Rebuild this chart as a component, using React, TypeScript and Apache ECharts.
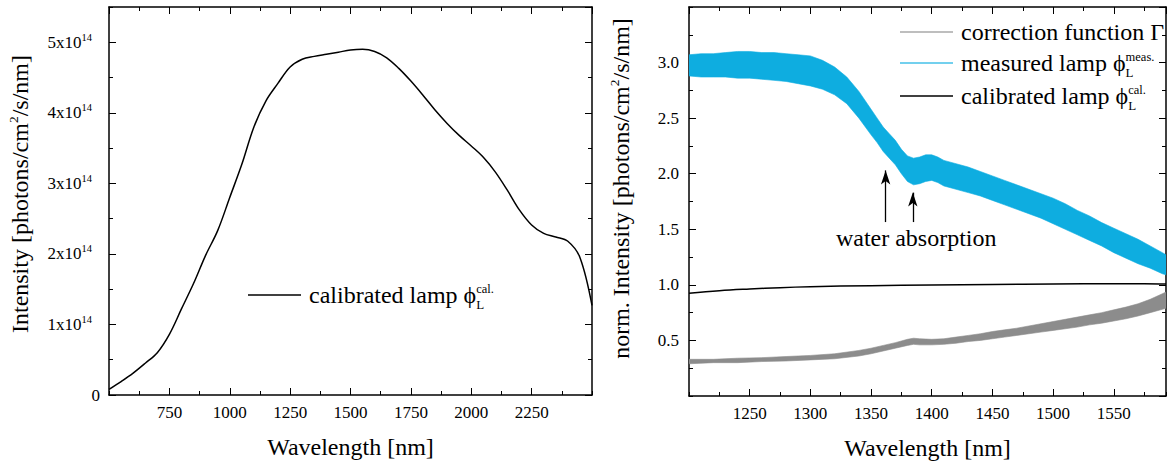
import React, { useEffect, useRef } from "react";
import * as echarts from "echarts";

const SERIF = "Liberation Serif";

// ---------- Left panel: absolute spectrum of the calibrated lamp ----------
// wavelength in nm, intensity in units of 10^14 photons/cm²/s/nm
const lampNm = [
  500, 550, 600, 650, 700, 750, 800, 850, 900, 950, 1000, 1050, 1100, 1150, 1200, 1250, 1300, 1350, 1400, 1450,
  1500, 1550, 1600, 1650, 1700, 1750, 1800, 1850, 1900, 1950, 2000, 2050, 2100, 2150, 2200, 2250, 2300, 2350,
  2400, 2450, 2500,
];
const lampIntensityE14 = [
  0.08, 0.19, 0.31, 0.45, 0.6, 0.86, 1.22, 1.58, 1.98, 2.33, 2.8, 3.27, 3.8, 4.17, 4.42, 4.65, 4.76, 4.8, 4.83,
  4.86, 4.89, 4.9, 4.87, 4.78, 4.63, 4.45, 4.25, 4.04, 3.85, 3.68, 3.53, 3.37, 3.16, 2.9, 2.62, 2.41, 2.29, 2.24,
  2.18, 1.95, 1.27,
];

// ---------- Right panel: normalised spectra ----------
// measured lamp: envelope of the fringe band (upper / lower edge)
const measuredNm = [
  1200, 1210, 1220, 1230, 1240, 1250, 1260, 1270, 1280, 1290, 1300, 1310, 1320, 1330, 1340, 1350, 1355, 1360, 1365,
  1370, 1375, 1380, 1385, 1390, 1395, 1400, 1405, 1410, 1420, 1430, 1440, 1450, 1460, 1470, 1480, 1490, 1500, 1510,
  1520, 1530, 1540, 1550, 1560, 1570, 1580, 1590, 1593,
];
const measuredUpper = [
  3.07, 3.08, 3.08, 3.09, 3.1, 3.1, 3.09, 3.09, 3.08, 3.07, 3.06, 3.02, 2.96, 2.87, 2.74, 2.58, 2.5, 2.42, 2.36,
  2.3, 2.22, 2.16, 2.14, 2.15, 2.17, 2.17, 2.15, 2.12, 2.09, 2.06, 2.02, 1.98, 1.94, 1.9, 1.86, 1.82, 1.78, 1.73,
  1.67, 1.62, 1.56, 1.51, 1.46, 1.41, 1.35, 1.29, 1.27,
];
const measuredLower = [
  2.88, 2.87, 2.87, 2.87, 2.86, 2.86, 2.85, 2.84, 2.83, 2.81, 2.79, 2.76, 2.71, 2.63, 2.5, 2.35, 2.28, 2.2, 2.14,
  2.08, 2.0, 1.93, 1.9, 1.91, 1.93, 1.94, 1.92, 1.89, 1.86, 1.83, 1.8, 1.76, 1.72, 1.68, 1.64, 1.6, 1.55, 1.5,
  1.45, 1.4, 1.35, 1.29, 1.24, 1.19, 1.15, 1.1, 1.09,
];

// correction function Γ: envelope of the fringe band
const corrNm = [
  1200, 1220, 1240, 1260, 1280, 1300, 1320, 1340, 1350, 1360, 1370, 1380, 1385, 1390, 1400, 1410, 1420, 1430, 1440,
  1450, 1460, 1470, 1480, 1490, 1500, 1510, 1520, 1530, 1540, 1550, 1560, 1570, 1580, 1590, 1593,
];
const corrUpper = [
  0.33, 0.33, 0.34, 0.345, 0.355, 0.365, 0.38, 0.41, 0.43, 0.455, 0.48, 0.51, 0.52, 0.515, 0.51, 0.515, 0.53, 0.545,
  0.56, 0.58, 0.595, 0.61, 0.63, 0.65, 0.67, 0.69, 0.71, 0.73, 0.75, 0.775, 0.8, 0.83, 0.87, 0.92, 0.935,
];
const corrLower = [
  0.29, 0.3, 0.3, 0.31, 0.315, 0.325, 0.335, 0.36, 0.38, 0.405, 0.43, 0.455, 0.465, 0.46, 0.46, 0.465, 0.475, 0.49,
  0.5, 0.515, 0.53, 0.545, 0.56, 0.575, 0.59, 0.605, 0.62, 0.64, 0.655, 0.675, 0.695, 0.72, 0.75, 0.78, 0.79,
];

// calibrated lamp, normalised
const normNm = [1200, 1225, 1250, 1275, 1300, 1350, 1400, 1450, 1500, 1550, 1575, 1593];
const normLamp = [0.925, 0.948, 0.963, 0.975, 0.983, 0.993, 0.999, 1.004, 1.008, 1.011, 1.011, 1.008];

// water absorption markers: [wavelength, arrow foot, arrow tip]
const waterArrows = [
  [1362, 1.565, 2.03],
  [1384.4, 1.565, 1.83],
];
const waterLabelAt = [1387.2, 1.42];

// axis ranges: [min, max, major step, minor step]
const leftX = [500, 2500, 250, 125];
const leftY = [0, 5.5, 1, 0.5];
const rightX = [1200, 1593, 50, 25];
const rightY = [0, 3.5, 0.5, 0.25];

const COLORS = {
  lamp: "#000000",
  measured: "#0eade0",
  measuredKey: "#45c0e8",
  corr: "#8c8c8c",
  corrKey: "#a8a8a8",
};

const tickFont = { fontFamily: SERIF, fontSize: 17, color: "#000" };
const titleFont = { fontFamily: SERIF, fontSize: 24, color: "#000" };

const phiRich = {
  sub: { fontFamily: SERIF, fontSize: 13, color: "#000", padding: [20, 0, 0, 0], width: 0 },
  sup: { fontFamily: SERIF, fontSize: 12.5, color: "#000", padding: [0, 0, 13, 0] },
};

const legendLabels: Record<string, string> = {
  "calibrated lamp": "calibrated lamp ϕ{sub|L}{sup|cal.}",
  "calibrated lamp (norm.)": "calibrated lamp ϕ{sub|L}{sup|cal.}",
  "measured lamp": "measured lamp ϕ{sub|L}{sup|meas.}",
  "correction function": "correction function Γ",
};

function frameAxes(gridIndex: number, dim: "x" | "y", range: number[], label: any, name: any) {
  const [min, max, major, minor] = range;
  const sideA = dim === "x" ? "bottom" : "left";
  const sideB = dim === "x" ? "top" : "right";
  const axis = (position: string, interval: number, tickLen: number, line: boolean) => ({
    type: "value",
    gridIndex,
    position,
    min,
    max,
    interval,
    axisLine: { show: line, onZero: false, lineStyle: { color: "#000", width: 1.5 } },
    axisTick: { show: true, inside: true, length: tickLen, lineStyle: { color: "#000", width: 1 } },
    axisLabel: { show: false },
    splitLine: { show: false },
    axisPointer: { show: false },
  });
  return [
    { ...axis(sideA, major, 7, true), axisLabel: label, ...name },
    axis(sideA, minor, 4, false),
    axis(sideB, major, 7, true),
    axis(sideB, minor, 4, false),
  ];
}

function keyLegend(name: string, left: number, top: number, color: string) {
  return {
    data: [name],
    left,
    top,
    orient: "vertical",
    padding: 0,
    icon: "rect",
    itemWidth: 53,
    itemHeight: 1.6,
    selectedMode: false,
    formatter: (n: string) => legendLabels[n] ?? n,
    itemStyle: { color, borderWidth: 0 },
    textStyle: { ...titleFont, padding: [0, 0, 0, 3], rich: phiRich },
  };
}

const pairs = (xs: number[], ys: number[]) => xs.map((x, i) => [x, ys[i]]);

// filled band between an upper and a lower edge, projected through the cartesian axes
function bandSeries(name: string, xs: number[], hi: number[], lo: number[], color: string) {
  return {
    type: "custom",
    name,
    coordinateSystem: "cartesian2d",
    xAxisIndex: 4,
    yAxisIndex: 4,
    data: xs.map((x, i) => [x, hi[i], lo[i]]),
    encode: { x: 0, y: [1, 2] },
    itemStyle: { color },
    silent: true,
    clip: true,
    z: 2,
    renderItem: (params: any, api: any) => {
      if (params.dataIndex !== 0) return null;
      const top = xs.map((x, i) => api.coord([x, hi[i]]));
      const bottom = xs.map((x, i) => api.coord([x, lo[i]])).reverse();
      return {
        type: "polygon",
        shape: { points: [...top, ...bottom] },
        style: { fill: color, stroke: color, lineWidth: 0.6 },
      };
    },
  };
}

function buildOption() {
  const xLabel = {
    show: true,
    margin: 9,
    showMinLabel: false,
    showMaxLabel: false,
    ...tickFont,
    formatter: (v: number) => String(v),
  };
  const xName = {
    name: "Wavelength [nm]",
    nameLocation: "middle",
    nameGap: 40,
    nameTextStyle: { ...titleFont, lineHeight: 24 },
  };
  const xAxis = [...frameAxes(0, "x", leftX, xLabel, xName), ...frameAxes(1, "x", rightX, xLabel, xName)];

  const supTitle = { fontFamily: SERIF, fontSize: 13.5, color: "#000", padding: [0, 0, 14, 0] };
  const yAxis = [
    ...frameAxes(
      0,
      "y",
      leftY,
      {
        show: true,
        margin: 9,
        showMaxLabel: false,
        ...tickFont,
        formatter: (v: number) => (v === 0 ? "0" : Number.isInteger(v) ? `${v}x10{sup|14}` : ""),
        rich: { sup: { fontFamily: SERIF, fontSize: 10.5, color: "#000", padding: [0, 8, 10, 0] } },
      },
      {
        name: "Intensity [photons/cm{sup|2}/s/nm]",
        nameLocation: "middle",
        nameGap: 75,
        nameTextStyle: { ...titleFont, padding: [0, 0, 0, 14], rich: { sup: supTitle } },
      }
    ),
    ...frameAxes(
      1,
      "y",
      rightY,
      {
        show: true,
        margin: 10,
        showMinLabel: false,
        showMaxLabel: false,
        ...tickFont,
        formatter: (v: number) => v.toFixed(1),
      },
      {
        name: "norm. Intensity [photons/cm{sup|2}/s/nm]",
        nameLocation: "middle",
        nameGap: 54,
        nameTextStyle: { ...titleFont, padding: [0, 0, 0, 26], rich: { sup: supTitle } },
      }
    ),
  ];

  const series: any[] = [
    {
      type: "line",
      name: "calibrated lamp",
      xAxisIndex: 0,
      yAxisIndex: 0,
      data: pairs(lampNm, lampIntensityE14),
      smooth: 0.35,
      symbol: "none",
      lineStyle: { color: COLORS.lamp, width: 1.5 },
      itemStyle: { color: COLORS.lamp },
      z: 3,
    },
    bandSeries("correction function", corrNm, corrUpper, corrLower, COLORS.corr),
    bandSeries("measured lamp", measuredNm, measuredUpper, measuredLower, COLORS.measured),
    {
      type: "line",
      name: "calibrated lamp (norm.)",
      xAxisIndex: 4,
      yAxisIndex: 4,
      data: pairs(normNm, normLamp),
      smooth: 0.4,
      symbol: "none",
      lineStyle: { color: COLORS.lamp, width: 1.5 },
      itemStyle: { color: COLORS.lamp },
      z: 3,
      markLine: {
        silent: true,
        symbol: ["none", "arrow"],
        symbolSize: [7, 14],
        lineStyle: { color: "#000", width: 1.3, type: "solid" },
        label: { show: false },
        data: waterArrows.map(([nm, from, to]) => [{ coord: [nm, from] }, { coord: [nm, to] }]),
      },
      markPoint: {
        silent: true,
        symbol: "circle",
        symbolSize: 1,
        itemStyle: { color: "rgba(0,0,0,0)" },
        label: { show: true, position: "inside", formatter: "water absorption", ...titleFont },
        data: [{ coord: waterLabelAt }],
      },
    },
  ];

  return {
    animation: false,
    backgroundColor: "#ffffff",
    textStyle: { fontFamily: SERIF },
    grid: [
      { left: 109, top: 7, width: 483, height: 388, containLabel: false, outerBoundsMode: "none" },
      { left: 689, top: 7, width: 477, height: 389, containLabel: false, outerBoundsMode: "none" },
    ],
    xAxis,
    yAxis,
    legend: [
      keyLegend("calibrated lamp", 248, 282, COLORS.lamp),
      keyLegend("correction function", 900, 20, COLORS.corrKey),
      keyLegend("measured lamp", 900, 50, COLORS.measuredKey),
      keyLegend("calibrated lamp (norm.)", 900, 83, COLORS.lamp),
    ],
    series,
  };
}

export default function App() {
  const ref = useRef<HTMLDivElement>(null);
  useEffect(() => {
    if (!ref.current) return;
    const chart = echarts.init(ref.current, undefined, { renderer: "svg" });
    chart.setOption(buildOption() as any);
    return () => chart.dispose();
  }, []);
  return (
    <div
      ref={ref}
      style={{ position: "absolute", left: 0, top: 0, width: 1167, height: 462, background: "#fff" }}
    />
  );
}
